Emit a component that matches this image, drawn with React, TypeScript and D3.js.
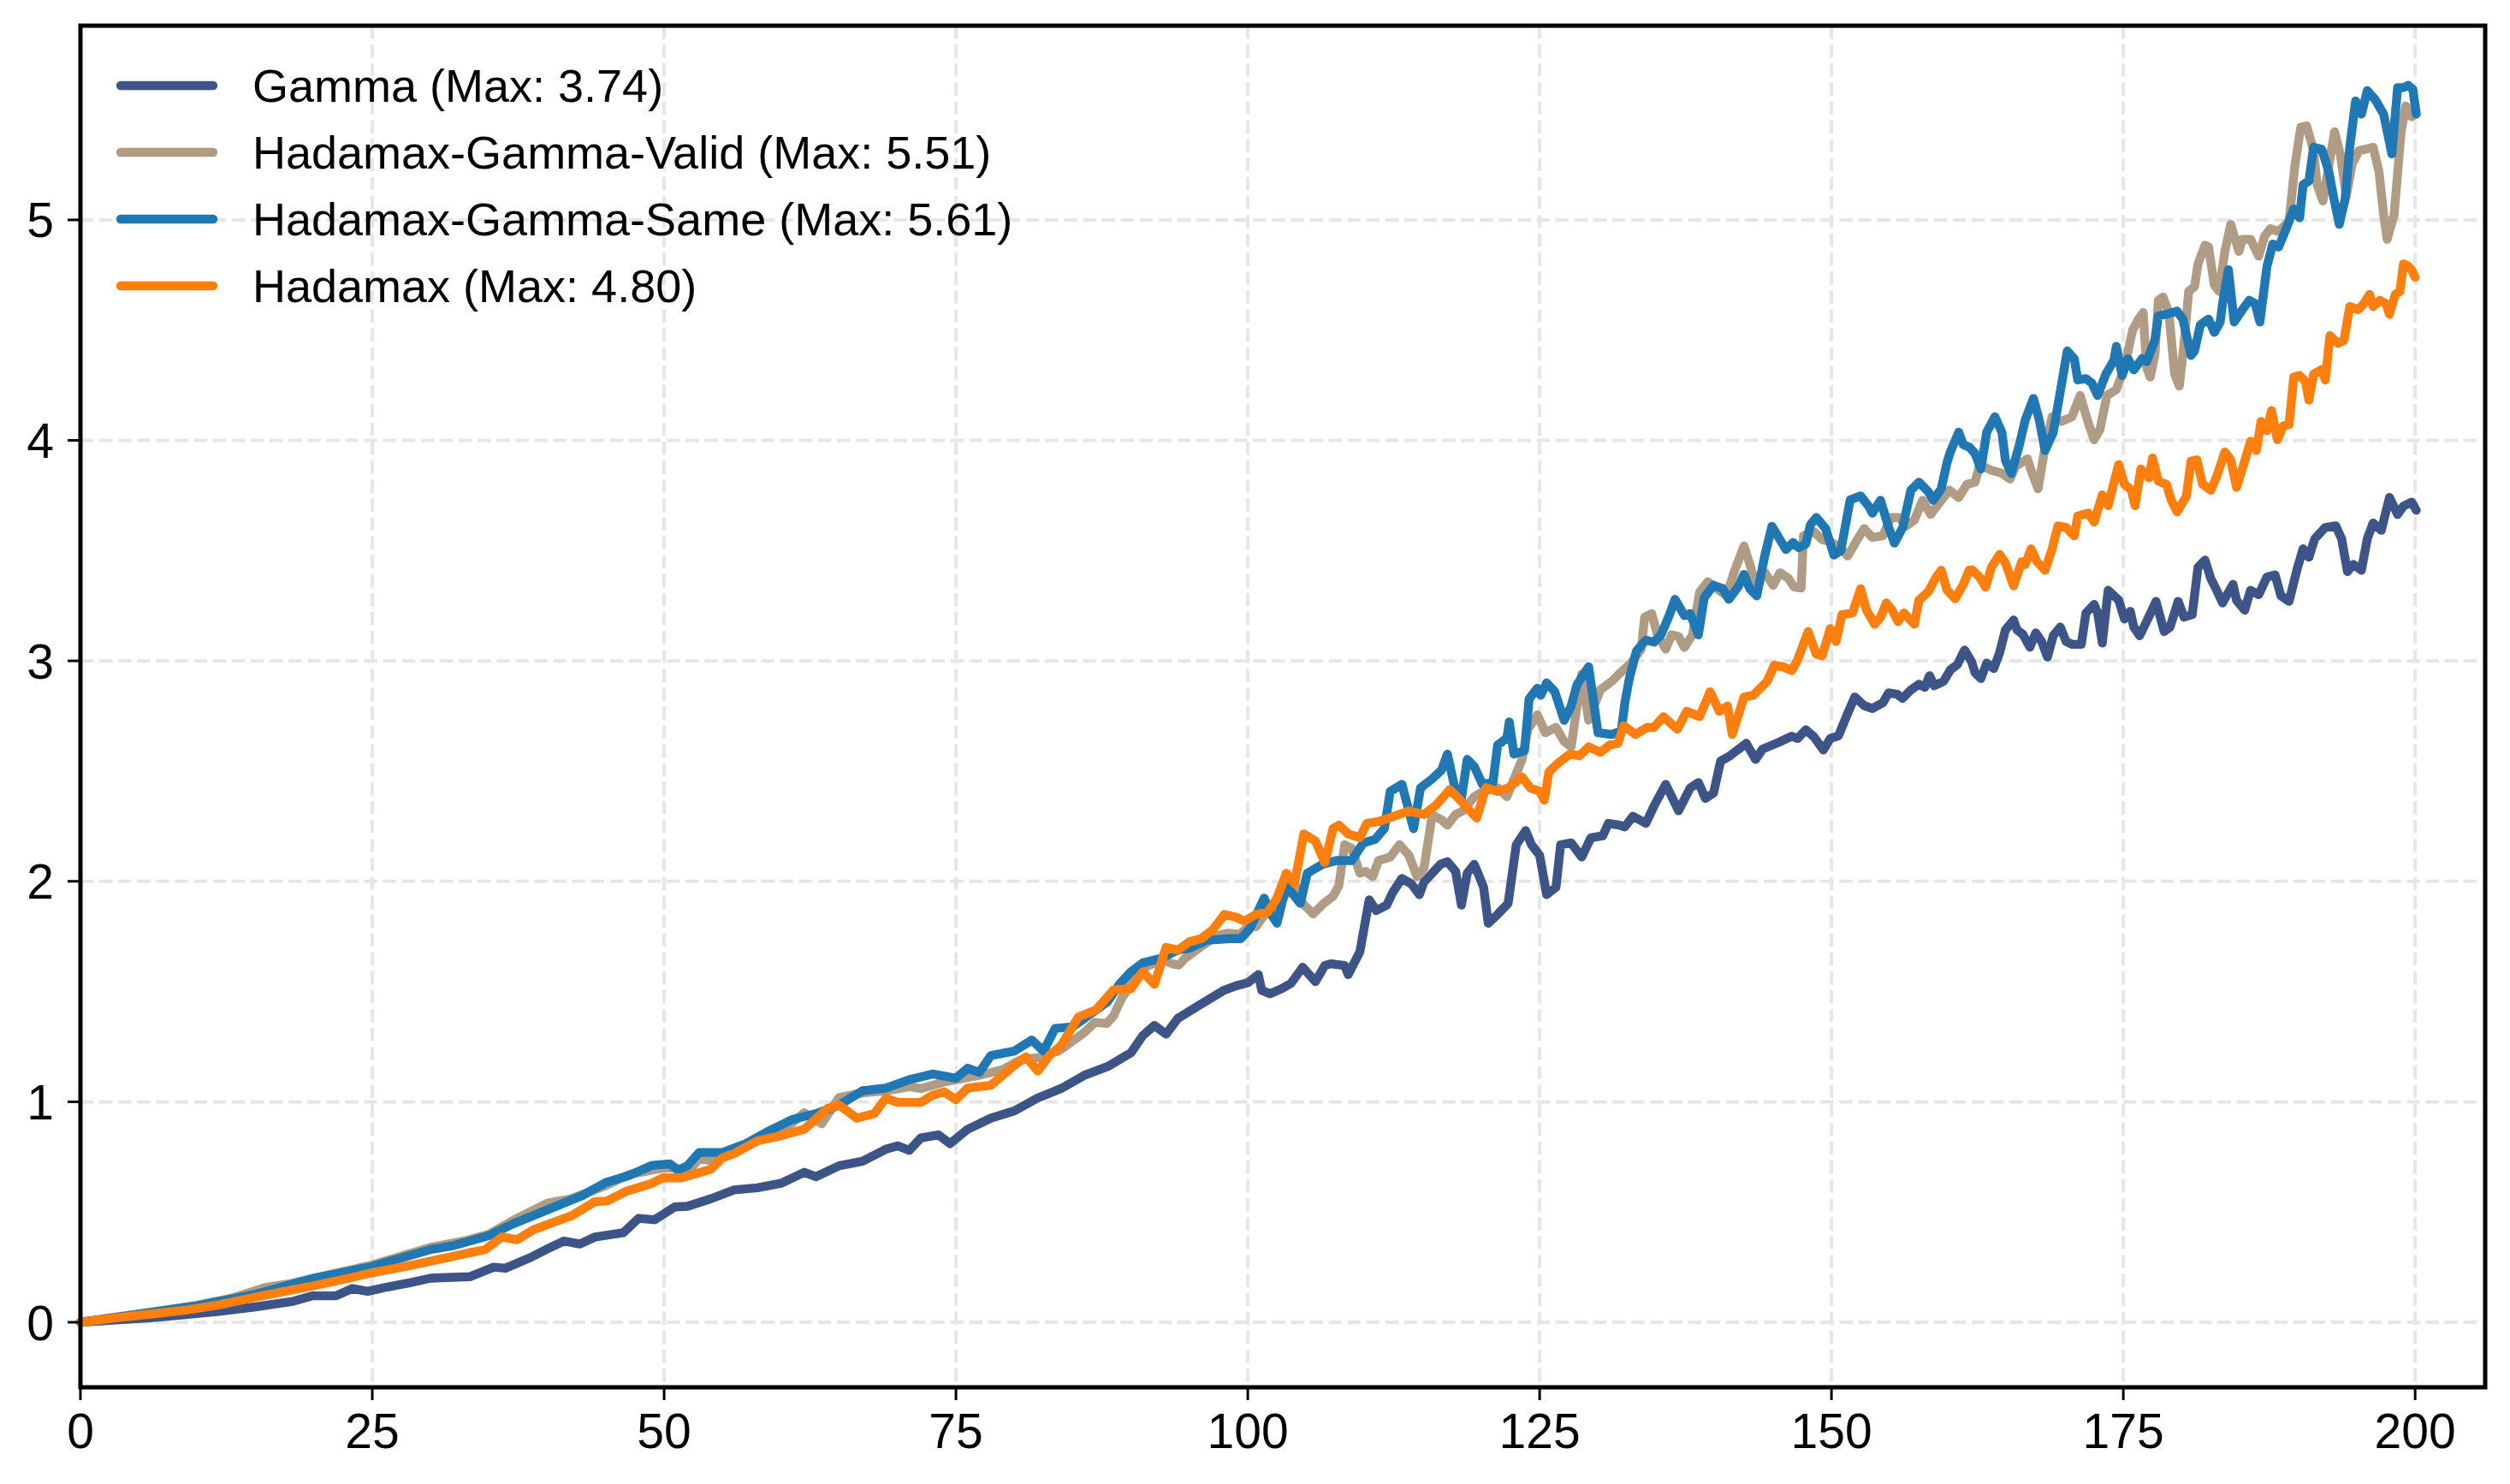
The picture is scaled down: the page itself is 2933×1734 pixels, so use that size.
import React from 'react';
import * as d3 from 'd3';

type P = [number, number];

const xTicks = [0, 25, 50, 75, 100, 125, 150, 175, 200];
const yTicks = [0, 1, 2, 3, 4, 5];

const gammaData: P[] = [
  [0,0],[3,0.01],[6,0.02],[9,0.035],[12,0.05],[15,0.07],[18.2,0.095],[19.9,0.12],[21.9,0.12],[23.3,0.153],[24.6,0.14],[26.3,0.16],[28.3,0.18],[30,0.2],[33.4,0.207],[35.4,0.25],[36.4,0.245],[38.4,0.29],[40.1,0.335],[41.4,0.368],[42.8,0.355],[44.1,0.387],[46.5,0.406],[47.8,0.471],[49.2,0.465],[50.9,0.523],
  [52,0.526],[54,0.56],[56,0.6],[58,0.61],[60,0.63],[62,0.68],[63,0.66],[65,0.71],[67,0.73],[69,0.785],[70,0.8],[71,0.78],[72,0.836],[73.5,0.85],[74.5,0.81],[76,0.875],[78,0.926],[80,0.959],[82,1.017],[84,1.06],[86,1.12],[88,1.16],[90,1.223],[91,1.3],[92,1.346],[93,1.307],[94,1.378],[96,1.443],[98,1.507],[99,1.526],[100,1.54],
  [100.9,1.577],[101.2,1.505],[101.9,1.49],[102.9,1.513],[103.7,1.537],[104.7,1.61],[105.8,1.545],[106.6,1.618],[107.1,1.626],[108.3,1.618],[108.6,1.577],[109.6,1.68],[110.4,1.916],[111.0,1.868],[111.9,1.892],[112.4,1.948],[113.2,2.013],[114.0,1.989],[114.7,1.94],[115.1,1.997],[116.5,2.077],[117.1,2.089],[117.8,2.045],[118.3,1.892],[118.8,2.037],[119.4,2.077],[120.2,1.973],[120.6,1.81],[121.4,1.85],[122.3,1.9],[123.0,2.166],[123.8,2.23],[124.3,2.166],[125.0,2.118],[125.6,1.94],[126.4,1.973],[126.8,2.166],[127.7,2.174],[128.6,2.11],[129.4,2.198],[130.4,2.206],[130.9,2.263],[131.8,2.255],[132.3,2.247],[133.0,2.295],[134.1,2.263],[134.9,2.352],[135.8,2.44],[136.9,2.32],[137.9,2.424],[138.6,2.448],[139.2,2.376],[139.9,2.4],[140.5,2.545],[141.3,2.569],[142.7,2.626],[143.5,2.553],[144.1,2.6],[145.3,2.626],[146.6,2.658],
  [147.1,2.648],[147.8,2.687],[148.5,2.655],[149.3,2.596],[149.9,2.648],[150.6,2.66],[151.3,2.75],[152.0,2.836],[152.8,2.797],[153.5,2.784],[154.4,2.81],[154.9,2.855],[155.6,2.849],[156.1,2.83],[156.8,2.868],[157.5,2.894],[158.0,2.88],[158.4,2.933],[158.8,2.887],[159.6,2.907],[160.2,2.96],[160.8,2.984],[161.4,3.049],[162.0,2.997],[162.3,2.946],[162.8,2.92],[163.3,2.99],[163.9,2.965],[164.4,3.036],[164.9,3.14],[165.6,3.185],[165.9,3.14],[166.4,3.12],[167.0,3.062],[167.5,3.127],[168.0,3.088],[168.5,3.017],[169.0,3.114],[169.6,3.153],[170.1,3.088],[170.6,3.075],[171.1,3.075],[171.4,3.075],[171.8,3.217],[172.5,3.256],[172.8,3.217],[173.2,3.081],[173.7,3.32],[174.6,3.276],[175.1,3.19],[175.6,3.224],[175.9,3.153],[176.4,3.114],[177.1,3.19],[177.8,3.27],[178.5,3.133],[179.0,3.153],[179.7,3.27],[180.2,3.198],[180.9,3.21],[181.4,3.424],[182.0,3.457],[182.5,3.373],[183.0,3.32],[183.5,3.263],[184.4,3.347],[184.7,3.275],[185.4,3.23],[185.9,3.32],[186.6,3.3],[187.3,3.38],[188.0,3.39],[188.5,3.295],[189.2,3.27],[189.9,3.418],[190.4,3.508],[190.9,3.47],[191.4,3.554],[192.3,3.605],[193.2,3.612],[193.7,3.554],[194.2,3.405],[194.7,3.437],[195.4,3.411],[195.9,3.554],[196.4,3.625],[197.1,3.592],[197.8,3.741],[198.5,3.664],[199.0,3.702],[199.7,3.72],[200.1,3.683],
];

const validData: P[] = [
  [0,0],[5,0.038],[10,0.077],[13,0.11],[16,0.16],[18,0.175],[20,0.2],[25,0.26],[30,0.34],[33,0.37],[35,0.4],[37,0.46],[40,0.54],[42,0.56],[45,0.62],[47,0.67],[49,0.69],[50,0.7],[51,0.7],
  [52,0.68],[53,0.74],[54,0.733],[56,0.78],[58,0.83],[60,0.86],[62,0.95],[63.5,0.9],[65,1.02],[67,1.04],[69,1.05],[71,1.068],[72,1.06],[74,1.09],[75,1.1],[77,1.12],[79,1.146],[80.5,1.19],[82,1.2],[83.8,1.23],[85.9,1.31],[86.9,1.36],[87.9,1.355],[88.5,1.39],[89.2,1.47],[90.2,1.547],[91.2,1.61],[92.6,1.645],[93.6,1.625],[94.1,1.62],[94.6,1.65],[95.9,1.7],[97.3,1.752],[98.3,1.765],[99.3,1.76],[100.3,1.805],
  [100.7,1.795],[101.7,1.868],[102.4,1.876],[103.0,1.924],[104.0,1.99],[104.7,1.9],[105.6,1.852],[106.5,1.9],[107.3,1.932],[107.8,1.98],[108.3,2.166],[108.9,2.15],[109.6,2.037],[110.1,2.045],[110.7,2.021],[111.2,2.094],[112.2,2.11],[113.0,2.166],[113.8,2.118],[114.5,2.021],[115.1,2.061],[115.8,2.303],[116.6,2.279],[117.1,2.255],[117.8,2.303],[118.4,2.319],[119.4,2.384],[120.4,2.416],[121.4,2.424],[122.2,2.384],[123.0,2.489],[123.5,2.553],[124.0,2.69],[124.8,2.755],[125.5,2.674],[126.4,2.698],[127.1,2.634],[127.7,2.61],[128.6,2.94],[129.2,2.731],[130.2,2.868],[131.2,2.908],[131.8,2.94],[132.8,2.989],[133.7,3.053],[134.0,3.198],[134.6,3.214],[135.1,3.118],[135.8,3.053],[136.3,3.118],[136.9,3.11],[137.4,3.061],[138.1,3.118],[138.7,3.311],[139.4,3.359],[140.2,3.327],[141.0,3.295],[141.7,3.408],[142.5,3.521],[143.0,3.44],[143.5,3.343],[144.3,3.4],[145.0,3.343],[145.6,3.4],[146.3,3.375],[146.8,3.335],[147.4,3.33],
  [147.6,3.567],[148.5,3.586],[149.2,3.55],[149.9,3.54],[150.6,3.52],[151.4,3.476],[152.1,3.54],[152.8,3.6],[153.5,3.56],[154.4,3.567],[155.1,3.65],[155.8,3.65],[156.4,3.612],[157.1,3.638],[157.8,3.728],[158.5,3.664],[159.4,3.728],[160.1,3.774],[160.9,3.741],[161.6,3.8],[162.3,3.81],[162.7,3.89],[163.7,3.864],[164.6,3.851],[165.3,3.825],[165.8,3.884],[166.8,3.916],[167.1,3.864],[167.7,3.78],[168.2,3.94],
  [168.9,4.107],[169.7,4.086],[170.6,4.107],[171.3,4.204],[172.0,4.08],[172.5,4.003],[173.0,4.05],[173.6,4.204],[174.4,4.23],[175.1,4.33],[175.8,4.5],[176.3,4.55],[176.7,4.58],[177.0,4.33],[177.3,4.287],[177.7,4.385],[178.0,4.635],[178.4,4.65],[178.9,4.58],[179.4,4.3],[179.8,4.246],[180.2,4.44],[180.6,4.676],[181.1,4.697],[181.4,4.8],[182.0,4.885],[182.3,4.877],[182.8,4.704],[183.2,4.676],[183.7,4.857],[184.2,4.98],[184.9,4.857],[185.2,4.912],[185.9,4.912],[186.6,4.836],[187.1,4.926],[187.6,4.96],[188.3,4.947],[189.2,4.995],[189.7,5.246],[190.2,5.42],[190.7,5.427],[191.3,5.315],[191.6,5.16],[192.1,5.086],[192.6,5.246],[193.1,5.4],[193.6,5.295],[194.1,5.107],[194.6,5.253],[195.2,5.315],[195.7,5.32],[196.4,5.33],[196.9,5.22],[197.3,5.024],[197.6,4.912],[198.2,5.024],[198.8,5.4],[199.2,5.517],[199.7,5.468],[200.0,5.48],
];

const sameData: P[] = [
  [0,0],[5,0.036],[10,0.075],[15,0.127],[20,0.2],[25,0.253],[30,0.33],[32,0.348],[35,0.393],[37,0.445],[40,0.51],[43,0.575],[45,0.634],[47,0.666],[49,0.712],[50.5,0.718],[51.2,0.69],
  [52,0.71],[53,0.77],[55,0.77],[57,0.81],[59,0.868],[61,0.92],[63,0.946],[65,0.985],[67,1.05],[69,1.062],[71,1.1],[73,1.126],[75,1.107],[76,1.152],[77,1.133],[78,1.21],[80,1.23],[81.5,1.28],[82.5,1.23],[83.5,1.333],[85,1.34],[86.5,1.397],[88,1.455],[89,1.533],[90,1.59],[91,1.63],[92.5,1.65],[94,1.688],[95,1.696],[96.5,1.733],[98.5,1.74],
  [99.4,1.74],[100.2,1.787],[101.4,1.924],[102.0,1.85],[102.5,1.81],[103.3,1.98],[104.5,1.9],[105.1,2.037],[106.4,2.077],[107.6,2.094],[108.9,2.094],[109.9,2.174],[110.9,2.19],[111.7,2.239],[112.2,2.408],[113.2,2.44],[114.2,2.239],[114.8,2.424],[115.8,2.465],[116.6,2.505],[117.1,2.577],[117.8,2.408],[118.3,2.376],[118.8,2.553],[119.4,2.521],[120.1,2.44],[121.0,2.448],[121.4,2.618],[122.2,2.65],[122.4,2.723],[122.8,2.577],[123.7,2.593],[124.1,2.827],[124.8,2.876],[125.1,2.844],[125.6,2.9],[126.3,2.86],[127.1,2.73],[127.7,2.795],[128.2,2.892],[129.2,2.973],[130.0,2.674],[131.2,2.666],[132.0,2.682],[132.3,2.81],[132.7,2.924],[133.3,3.045],[134.1,3.094],[134.8,3.085],[135.4,3.118],[136.1,3.206],[136.6,3.279],[137.4,3.206],[137.9,3.214],[138.6,3.118],[139.1,3.287],[139.9,3.343],[140.7,3.327],[141.2,3.279],[142.0,3.335],[142.5,3.392],[143.0,3.327],[143.6,3.295],[144.3,3.48],[144.9,3.61],[146.1,3.505],[146.7,3.537],[147.2,3.513],[147.8,3.53],
  [148.2,3.618],[148.7,3.65],[149.5,3.6],[150.2,3.48],[150.8,3.5],[151.6,3.73],[152.5,3.748],[153.2,3.7],[153.5,3.67],[154.2,3.728],[154.9,3.605],[155.4,3.534],[156.1,3.605],[156.8,3.774],[157.5,3.81],[158.3,3.767],[158.7,3.728],[159.4,3.78],[159.9,3.9],[160.2,3.95],
  [160.9,4.037],[161.3,3.98],[161.8,3.97],[162.3,3.94],[162.8,3.87],[163.3,4.037],[164.0,4.107],[164.6,4.037],[164.9,3.91],[165.4,3.85],[166.1,3.98],[166.6,4.093],[167.3,4.19],[167.8,4.093],[168.3,3.954],[169.0,4.037],[170.2,4.405],[170.8,4.37],[171.1,4.274],[171.8,4.28],[172.3,4.26],[172.8,4.204],[173.5,4.3],[174.2,4.364],[174.4,4.426],[174.9,4.294],[175.4,4.37],[175.9,4.32],[176.6,4.37],[177.0,4.357],[177.7,4.454],[178.0,4.565],[178.7,4.572],[179.6,4.586],[180.1,4.55],[180.8,4.385],[181.1,4.405],[181.6,4.524],[182.3,4.55],[182.8,4.49],[183.3,4.537],[183.5,4.62],[184.0,4.774],[184.5,4.537],[185.2,4.593],[185.8,4.635],[186.3,4.62],[186.7,4.537],[187.3,4.787],[187.8,4.89],[188.3,4.877],[188.9,4.953],[189.6,5.05],[190.1,5.01],[190.4,5.16],[190.9,5.176],[191.3,5.33],[192.0,5.32],[192.6,5.22],[193.0,5.107],[193.5,4.98],[194.0,5.093],[194.4,5.33],[194.9,5.54],[195.4,5.48],[195.9,5.586],[196.6,5.544],[197.3,5.48],[198.0,5.3],[198.5,5.6],[199.0,5.6],[199.4,5.61],[199.8,5.593],[200.1,5.48],
];

const hadamaxData: P[] = [
  [0,0],[3,0.02],[6,0.037],[9,0.055],[12,0.08],[15,0.114],[18,0.145],[20,0.166],[23,0.2],[25,0.225],[28,0.255],[30,0.277],[33.4,0.316],[34.7,0.33],[36.1,0.387],[37.4,0.374],[38.8,0.42],[42.1,0.484],[44.1,0.547],[45.1,0.55],[46.8,0.595],[48.8,0.627],[49.9,0.655],[51.5,0.655],
  [54,0.694],[55,0.746],[56,0.765],[58,0.823],[60,0.846],[62,0.875],[64,0.97],[65,0.985],[66.5,0.926],[68,0.946],[69,1.017],[70,0.997],[72,0.997],[73,1.03],[74,1.045],[75,1.01],[76,1.062],[78,1.075],[80,1.165],[81,1.204],[82,1.14],[83,1.21],[84,1.255],[85.5,1.385],[87,1.417],[88.5,1.507],[90,1.513],[91,1.59],[92,1.533],[93,1.7],[94,1.688],[95,1.726],[96,1.74],[97,1.78],[98,1.85],[99,1.837],
  [99.7,1.82],[100.7,1.85],[101.7,1.86],[102.5,1.924],[103.3,2.037],[104.0,1.989],[104.8,2.215],[105.8,2.182],[106.6,2.085],[107.3,2.239],[107.8,2.255],[108.6,2.215],[109.6,2.198],[110.2,2.263],[111.2,2.271],[112.5,2.295],[113.8,2.319],[115.1,2.303],[116.1,2.344],[117.3,2.416],[118.2,2.368],[119.6,2.287],[120.4,2.424],[121.4,2.408],[122.3,2.424],[123.5,2.473],[124.2,2.424],[125.0,2.408],[125.4,2.368],[125.8,2.497],[126.6,2.537],[127.6,2.577],[128.4,2.569],[129.2,2.61],[130.2,2.585],[131.0,2.618],[131.7,2.626],[132.2,2.706],[133.2,2.666],[134.2,2.698],[134.8,2.698],[135.6,2.747],[136.8,2.69],[137.6,2.771],[138.7,2.747],[139.6,2.86],[140.4,2.771],[141.1,2.795],[141.5,2.666],[142.5,2.835],[143.3,2.844],[144.5,2.908],[145.1,2.98],[145.9,2.972],[146.6,2.956],
  [147.1,3.004],[148.0,3.133],[148.7,3.03],[149.2,3.023],[149.9,3.146],[150.4,3.088],[150.9,3.21],[151.8,3.217],[152.5,3.327],[153.0,3.23],[153.7,3.166],[154.2,3.198],[154.7,3.263],[155.2,3.23],[155.7,3.178],[156.2,3.217],[157.1,3.166],[157.5,3.276],[158.3,3.314],[158.9,3.373],[159.4,3.411],[159.9,3.32],[160.6,3.282],[161.3,3.347],[161.8,3.411],[162.1,3.411],[162.7,3.379],[163.2,3.334],[163.7,3.424],[164.4,3.483],[164.9,3.444],[165.6,3.34],[166.3,3.45],[166.6,3.437],[167.1,3.508],[167.6,3.45],[168.3,3.411],[168.9,3.508],[169.4,3.612],[170.1,3.605],[170.8,3.567],[171.1,3.657],[172.0,3.67],[172.5,3.63],
  [173.2,3.753],[173.7,3.704],[174.6,3.89],[175.1,3.8],[175.7,3.774],[176.0,3.704],[176.5,3.87],[177.2,3.83],[177.5,3.92],[178.0,3.815],[178.7,3.8],[179.1,3.73],[179.6,3.676],[180.4,3.746],[180.8,3.906],[181.3,3.912],[181.8,3.8],[182.5,3.774],[183.0,3.836],[183.7,3.947],[184.2,3.912],[184.7,3.787],[185.4,3.906],[185.9,3.996],[186.4,3.954],[186.8,4.086],[187.3,4.044],[187.7,4.135],[188.2,4.003],[188.7,4.065],[189.2,4.072],[189.6,4.287],[190.1,4.294],[190.6,4.267],[190.9,4.183],[191.3,4.3],[192.0,4.322],[192.3,4.274],[192.7,4.475],[193.4,4.44],[193.9,4.454],[194.4,4.607],[195.1,4.593],[195.6,4.62],[196.1,4.662],[196.4,4.607],[197.0,4.635],[197.5,4.62],[197.8,4.572],[198.3,4.662],[198.7,4.676],[199.0,4.8],[199.4,4.79],[199.7,4.774],[200.0,4.74],
];

const seriesNames = [
  'Gamma (Max: 3.74)',
  'Hadamax-Gamma-Valid (Max: 5.51)',
  'Hadamax-Gamma-Same (Max: 5.61)',
  'Hadamax (Max: 4.80)',
];
const seriesColors = ['#3C5488', '#B09C85', '#1F77B4', '#FF7F0E'];
const seriesData = [gammaData, validData, sameData, hadamaxData];

const FONT = '"Liberation Sans", Arial, Helvetica, sans-serif';

export default function App() {
  const W = 2933;
  const H = 1734;
  const left = 94, right = 2904, top = 30, bottom = 1621;
  const x = d3.scaleLinear().domain([0, 206]).range([left, right]);
  const y = d3.scaleLinear().domain([-0.295, 5.881]).range([bottom, top]);
  const line = d3.line<P>().x((d) => x(d[0])).y((d) => y(d[1])).curve(d3.curveLinear);

  const tickFont = 57;
  const legFont = 54;
  const lw = 10.4;

  return (
    <svg
      width={W}
      height={H}
      viewBox={`0 0 ${W} ${H}`}
      style={{ position: 'absolute', left: 0, top: 0, background: '#fff' }}
      fontFamily={FONT}
    >
      <rect x={0} y={0} width={W} height={H} fill="#fff" />
      <g stroke="#e6e6e6" strokeWidth={4} strokeDasharray="15.4 6.7" fill="none">
        {xTicks.map((t) => (
          <line key={`gx${t}`} x1={x(t)} x2={x(t)} y1={top} y2={bottom} />
        ))}
        {yTicks.map((t) => (
          <line key={`gy${t}`} x1={left} x2={right} y1={y(t)} y2={y(t)} />
        ))}
      </g>
      <g fill="none" strokeWidth={lw} strokeLinejoin="round" strokeLinecap="round">
        {seriesData.map((d, i) => (
          <path key={i} d={line(d) || ''} stroke={seriesColors[i]} />
        ))}
      </g>
      <rect x={left} y={top} width={right - left} height={bottom - top} fill="none" stroke="#000" strokeWidth={5} />
      <g>
        {xTicks.map((t) => (
          <g key={`xt${t}`}>
            <line x1={x(t)} x2={x(t)} y1={bottom} y2={bottom + 15} stroke="#000" strokeWidth={3} />
            <text x={x(t)} y={bottom + 71} fontSize={tickFont} textAnchor="middle" fill="#000">
              {t}
            </text>
          </g>
        ))}
      </g>
      <g>
        {yTicks.map((t) => (
          <g key={`yt${t}`}>
            <line x1={left - 15} x2={left} y1={y(t)} y2={y(t)} stroke="#000" strokeWidth={3} />
            <text x={left - 31} y={y(t) + 20.5} fontSize={tickFont} textAnchor="end" fill="#000">
              {t}
            </text>
          </g>
        ))}
      </g>
      <g>
        {seriesNames.map((name, i) => {
          const ry = 100 + i * 78;
          return (
            <g key={name}>
              <line x1={141} x2={249} y1={ry} y2={ry} stroke={seriesColors[i]} strokeWidth={lw} strokeLinecap="round" />
              <text x={295} y={ry + 19} fontSize={legFont} fill="#000">
                {name}
              </text>
            </g>
          );
        })}
      </g>
    </svg>
  );
}
